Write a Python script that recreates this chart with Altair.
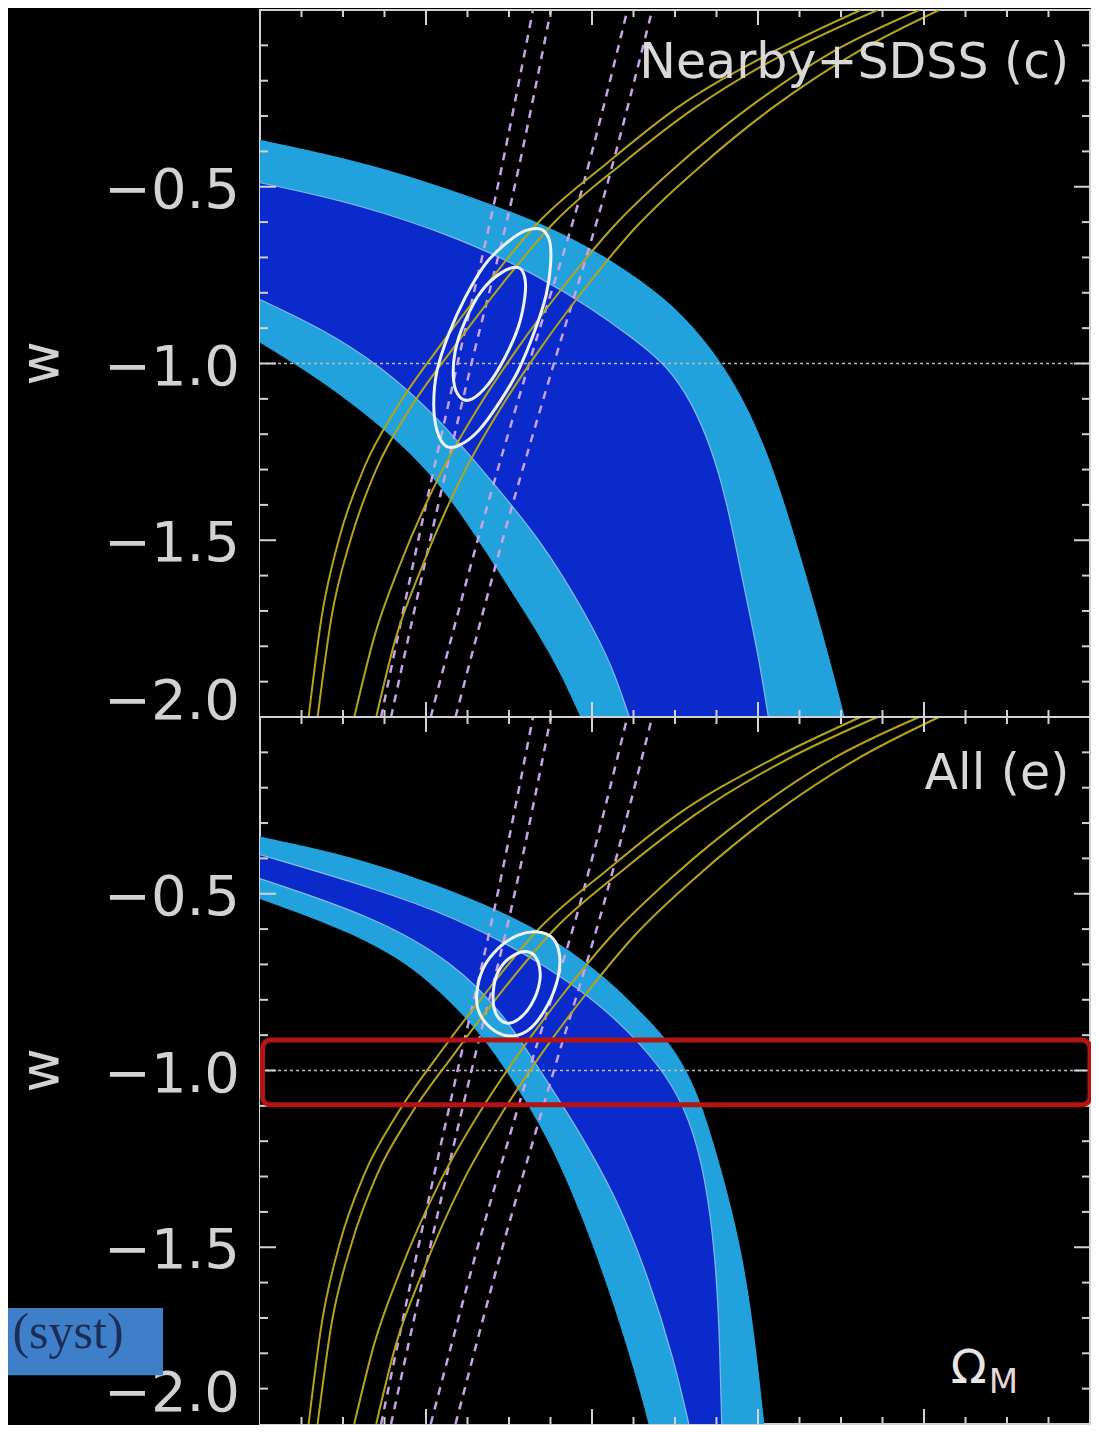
import altair as alt
import pandas as pd

W = 830
H = 1414
FONT = "DejaVu Sans"
FG = "#d2d2d2"
LIGHT = "#22a2dc"
DARK = "#0a2acb"
EDGE = "#9ccbf0"
YELLOW = "#b4a41c"
PINK = "#c9a2e8"
RING = "#eef4f4"

# ---------------- data (Omega_M, w) ----------------
# Top panel: Nearby+SDSS SN contours (2-sigma upper, 1-sigma upper, 1-sigma lower, 2-sigma lower)
top_2u_x = [0.0, 0.1316, 0.2632, 0.3589, 0.4306, 0.4880, 0.5323, 0.5682, 0.5981, 0.6244, 0.6519, 0.6794, 0.7045]
top_2u_w = [-0.3672, -0.4322, -0.5339, -0.6215, -0.7175, -0.8136, -0.9209, -1.0395, -1.1751, -1.3362, -1.5480, -1.7740, -2.0]
top_1u_x = [0.0, 0.1184, 0.2452, 0.3349, 0.3995, 0.4498, 0.4904, 0.5203, 0.5431, 0.5622, 0.5801, 0.6005, 0.6124]
top_1u_w = [-0.4887, -0.5480, -0.6497, -0.7514, -0.8446, -0.9294, -1.0056, -1.1102, -1.2345, -1.3870, -1.5989, -1.8249, -2.0]
top_1l_x = [0.000, 0.072, 0.144, 0.215, 0.275, 0.339, 0.395, 0.425, 0.445]
top_1l_w = [-0.819, -0.898, -1.003, -1.153, -1.322, -1.500, -1.718, -1.859, -2.000]
top_2l_x = [0.000, 0.072, 0.144, 0.212, 0.263, 0.323, 0.359, 0.386]
top_2l_w = [-0.941, -1.045, -1.172, -1.322, -1.500, -1.718, -1.859, -2.000]

# Bottom panel: All SN contours
bot_2u_x = [0.0, 0.1160, 0.2344, 0.3289, 0.3995, 0.4474, 0.4928, 0.5144, 0.5323, 0.5574, 0.5801, 0.5957, 0.6077]
bot_2u_w = [-0.3383, -0.3955, -0.4923, -0.5891, -0.7029, -0.8050, -0.9173, -1.0014, -1.0940, -1.2903, -1.5007, -1.7391, -2.0]
bot_1u_x = [0.0, 0.1400, 0.2344, 0.3289, 0.3995, 0.4474, 0.4892, 0.5179, 0.5371, 0.5490, 0.5538, 0.5562]
bot_1u_w = [-0.3896, -0.4864, -0.5663, -0.6802, -0.7938, -0.8968, -1.0098, -1.1360, -1.3072, -1.5344, -1.7616, -2.0]
bot_1l_x = [0.0, 0.1400, 0.2344, 0.2943, 0.3385, 0.3828, 0.4306, 0.4689, 0.4988, 0.5167]
bot_1l_w = [-0.4572, -0.5666, -0.6957, -0.8415, -1.0042, -1.1641, -1.3633, -1.5905, -1.8177, -2.0]
bot_2l_x = [0.000, 0.140, 0.211, 0.262, 0.300, 0.348, 0.390, 0.433, 0.461, 0.468]
bot_2l_w = [-0.515, -0.635, -0.760, -0.885, -1.010, -1.192, -1.421, -1.706, -1.933, -2.000]

# Combined contours (white rings)
top_outer_x = [0.3389, 0.3489, 0.3501, 0.3449, 0.3310, 0.3110, 0.2871, 0.2632, 0.2392,
               0.2233, 0.2133, 0.2093, 0.2133, 0.2273, 0.2472, 0.2712, 0.2951, 0.3190]
top_outer_w = [-0.6206, -0.6534, -0.7195, -0.8042, -0.9076, -1.0206, -1.1150, -1.1901, -1.2325,
               -1.2325, -1.1901, -1.1150, -1.0206, -0.9172, -0.8136, -0.7195, -0.6630, -0.6251]
top_inner_x = [0.3110, 0.3190, 0.3190, 0.3110, 0.2951, 0.2751, 0.2551, 0.2413, 0.2333,
               0.2353, 0.2472, 0.2671, 0.2910]
top_inner_w = [-0.7288, -0.7571, -0.8136, -0.8983, -0.9831, -1.0585, -1.1008, -1.0960, -1.0489,
               -0.9641, -0.8794, -0.7946, -0.7429]
bot_outer_x = [0.3349, 0.3529, 0.3609, 0.3589, 0.3469, 0.3269, 0.3050, 0.2831, 0.2652,
               0.2611, 0.2691, 0.2871, 0.3110]
bot_outer_w = [-0.6079, -0.6264, -0.6732, -0.7386, -0.8135, -0.8788, -0.9024, -0.8884, -0.8415,
               -0.7854, -0.7105, -0.6544, -0.6171]
bot_inner_x = [0.3230, 0.3349, 0.3370, 0.3269, 0.3110, 0.2951, 0.2831, 0.2811, 0.2871, 0.3030]
bot_inner_w = [-0.6640, -0.6920, -0.7481, -0.8135, -0.8555, -0.8648, -0.8323, -0.7762, -0.7201, -0.6780]

# BAO band (yellow) - same in both panels
bao_w_a = [-2.000, -1.718, -1.492, -1.294, -1.124, -0.955, -0.771, -0.602, -0.432, -0.277, -0.121, 0.000]
bao1_x = [0.0586, 0.0742, 0.0957, 0.1256, 0.1651, 0.2153, 0.2751, 0.3349, 0.4187, 0.5024, 0.6160, 0.7237]
bao2_x = [0.0694, 0.0861, 0.1100, 0.1411, 0.1818, 0.2333, 0.2931, 0.3541, 0.4378, 0.5239, 0.6340, 0.7440]
bao_w_b = [-2.000, -1.774, -1.576, -1.322, -1.124, -0.955, -0.785, -0.616, -0.446, -0.277, -0.121, 0.000]
bao3_x = [0.1136, 0.1376, 0.1675, 0.2153, 0.2632, 0.3110, 0.3648, 0.4246, 0.5000, 0.5885, 0.6878, 0.7943]
bao4_x = [0.1400, 0.1639, 0.1950, 0.2428, 0.2907, 0.3385, 0.3923, 0.4522, 0.5287, 0.6172, 0.7177, 0.8182]

# CMB band (pink dashed) - same in both panels
cmb_w = [-2.000, -1.492, -1.000, -0.531, 0.000]
cmb1_x = [0.1459, 0.1914, 0.2380, 0.2835, 0.3289]
cmb2_x = [0.1579, 0.2057, 0.2548, 0.3038, 0.3505]
cmb3_x = [0.2057, 0.2632, 0.3242, 0.3852, 0.4426]
cmb4_x = [0.2356, 0.2931, 0.3541, 0.4139, 0.4725]

# axis ticks / labels
w_label_vals = [-1.5, -1.0, -0.5]
w_label_txt = ["−1.5", "−1.0", "−0.5"]
w_end_vals = [-2.0]
w_end_txt = ["−2.0"]
w_major = [-1.5, -1.0, -0.5]
w_minor = [-1.9, -1.8, -1.7, -1.6, -1.4, -1.3, -1.2, -1.1, -0.9, -0.8, -0.7, -0.6, -0.4, -0.3, -0.2, -0.1]
x_major = [0.2, 0.4, 0.6, 0.8]
x_minor = [0.05, 0.10, 0.15, 0.25, 0.30, 0.35, 0.45, 0.50, 0.55, 0.65, 0.70, 0.75, 0.85, 0.90, 0.95]

# annotations (bottom panel)
red_box = {"x": [0.003], "x2": [1.0], "w": [-0.914], "w2": [-1.097]}
syst_box = {"x": [-0.3036], "x2": [-0.1169], "w": [-1.672], "w2": [-1.862]}
syst_text = {"x": [-0.2313], "w": [-1.785], "t": ["(syst)"]}

XS = alt.Scale(domain=[0, 1], nice=False, zero=False)
YS = alt.Scale(domain=[-4, 0], nice=False, zero=False)
X = alt.X("x:Q", scale=XS, axis=None)
Y = alt.Y("yy:Q", scale=YS, axis=None)


def base(data, off):
    return alt.Chart(pd.DataFrame(data)).transform_calculate(
        yy=f"datum.w + ({off})")


def cd(xs, ws):
    return {"x": xs, "w": ws}


def panel_layers(off, bands, rings, label, label_w, end_dy, bottom=False):
    L = []
    for (bx, bw), col in zip(bands, [LIGHT, DARK, LIGHT, "#000000"]):
        L.append(base(cd(bx, bw), off).mark_area(
            color=col, interpolate="basis", orient="vertical", clip=True
        ).encode(x=X, y=Y, y2=alt.datum(-2 + off)))
    for bx, bw in [bands[1], bands[2]]:
        L.append(base(cd(bx, bw), off).mark_line(
            color=EDGE, strokeWidth=1.2, opacity=0.8, interpolate="basis", clip=True
        ).encode(x=X, y=Y))
    L.append(base(cd([0, 1], [-1, -1]), off).mark_line(
        color="#bdbdbd", strokeWidth=1.5, strokeDash=[3, 3]).encode(x=X, y=Y))
    for cx in [cmb1_x, cmb2_x, cmb3_x, cmb4_x]:
        L.append(base(cd(cx, cmb_w), off).mark_line(
            color=PINK, strokeWidth=2.5, strokeDash=[8, 7], interpolate="monotone", clip=True
        ).encode(x=X, y=Y))
    for bx, bw in [(bao1_x, bao_w_a), (bao2_x, bao_w_a), (bao3_x, bao_w_b), (bao4_x, bao_w_b)]:
        L.append(base(cd(bx, bw), off).mark_line(
            color=YELLOW, strokeWidth=2, interpolate="monotone", clip=True
        ).encode(x=X, y=Y))
    for rx, rw in rings:
        d = cd(rx, rw)
        d["i"] = list(range(len(rx)))
        L.append(base(d, off).mark_line(
            color=RING, strokeWidth=3, interpolate="cardinal-closed", clip=True
        ).encode(x=X, y=Y, order="i:Q"))
    # left / right ticks
    for vals, ln in [(w_minor, 8), (w_major, 16)]:
        L.append(base({"w": vals}, off).mark_rule(color=FG, strokeWidth=2).encode(
            y=Y, x=alt.value(0), x2=alt.value(ln)))
        L.append(base({"w": vals}, off).mark_rule(color=FG, strokeWidth=2).encode(
            y=Y, x=alt.value(W - ln), x2=alt.value(W)))
    # y labels and title
    L.append(base({"w": w_label_vals, "t": w_label_txt}, off).mark_text(
        align="right", baseline="middle", dy=4, font=FONT, fontSize=56, color=FG
    ).encode(y=Y, x=alt.value(-20), text="t:N"))
    L.append(base({"w": w_end_vals, "t": w_end_txt}, off).mark_text(
        align="right", baseline="middle", dy=end_dy, font=FONT, fontSize=56, color=FG
    ).encode(y=Y, x=alt.value(-20), text="t:N"))
    L.append(base({"w": [-1.0], "t": ["w"]}, off).mark_text(
        align="center", baseline="middle", angle=270, font=FONT, fontSize=54, color=FG
    ).encode(y=Y, x=alt.value(-218), text="t:N"))
    # panel label
    L.append(base({"x": [0.975], "w": [label_w], "t": [label]}, off).mark_text(
        align="right", baseline="alphabetic", font=FONT, fontSize=49, color="#d8d8d8"
    ).encode(x=X, y=Y, text="t:N"))
    if bottom:
        L.append(base(red_box, off).transform_calculate(yy2=f"datum.w2 + ({off})").mark_rect(
            filled=False, stroke="#b51414", strokeWidth=5, cornerRadius=8, fillOpacity=0
        ).encode(x=X, x2="x2:Q", y=Y, y2="yy2:Q"))
        L.append(base({"x": [0.854], "w": [-1.885], "t": ["Ω"]}, off).mark_text(
            align="center", baseline="alphabetic", font=FONT, fontSize=47, color="#e6e6e6"
        ).encode(x=X, y=Y, text="t:N"))
        L.append(base({"x": [0.878], "w": [-1.913], "t": ["M"]}, off).mark_text(
            align="left", baseline="alphabetic", font=FONT, fontSize=34, color="#e2d8d8"
        ).encode(x=X, y=Y, text="t:N"))
        L.append(base(syst_box, off).transform_calculate(yy2=f"datum.w2 + ({off})").mark_rect(
            color="#3f7fc9", clip=False
        ).encode(x=X, x2="x2:Q", y=Y, y2="yy2:Q"))
        L.append(base(syst_text, off).mark_text(
            align="center", baseline="alphabetic", font="Liberation Serif", fontSize=50,
            color="#1b2c55", clip=False
        ).encode(x=X, y=Y, text="t:N"))
    return L


layers = []
layers += panel_layers(
    0,
    [(top_2u_x, top_2u_w), (top_1u_x, top_1u_w), (top_1l_x, top_1l_w), (top_2l_x, top_2l_w)],
    [(top_outer_x, top_outer_w), (top_inner_x, top_inner_w)],
    "Nearby+SDSS (c)", -0.192, -15)
layers += panel_layers(
    -2,
    [(bot_2u_x, bot_2u_w), (bot_1u_x, bot_1u_w), (bot_1l_x, bot_1l_w), (bot_2l_x, bot_2l_w)],
    [(bot_outer_x, bot_outer_w), (bot_inner_x, bot_inner_w)],
    "All (e)", -0.205, -30, bottom=True)

# divider between the panels and x ticks (top, middle, bottom)
layers.append(base({"w": [-2.0]}, 0).mark_rule(color=FG, strokeWidth=2).encode(
    y=Y, x=alt.value(0), x2=alt.value(W)))
for vals, ln in [(x_minor, 7), (x_major, 15)]:
    layers.append(alt.Chart(pd.DataFrame({"x": vals})).mark_rule(color=FG, strokeWidth=2).encode(
        x=X, y=alt.value(0), y2=alt.value(ln)))
    layers.append(alt.Chart(pd.DataFrame({"x": vals})).mark_rule(color=FG, strokeWidth=2).encode(
        x=X, y=alt.value(H - ln), y2=alt.value(H)))
    layers.append(base({"x": vals, "w": [-2.0] * len(vals)}, 0).mark_rule(
        color=FG, strokeWidth=2, yOffset=-ln, y2Offset=ln
    ).encode(x=X, y=Y, y2="yy:Q"))

chart = alt.layer(*layers).properties(
    width=W, height=H,
    autosize=alt.AutoSizeParams(type="none"),
    padding={"left": 252, "top": 2, "right": 1, "bottom": 1},
    background="black",
).configure_view(stroke=FG, strokeWidth=2)

chart.save("out.html", embed_options={"renderer": "svg", "actions": False})
